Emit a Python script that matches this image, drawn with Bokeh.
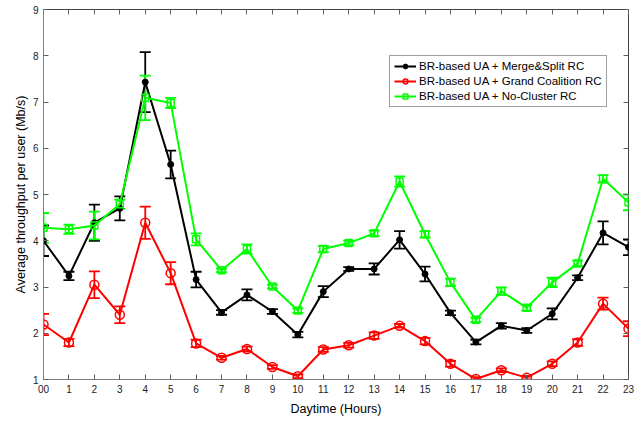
from bokeh.plotting import figure
from bokeh.models import (ColumnDataSource, Whisker, TeeHead, Range1d, LinearAxis,
                          FixedTicker, Legend, LegendItem)
from bokeh.embed import file_html
from bokeh.resources import INLINE

hours = list(range(24))
hour_labels = ["00"] + [str(h) for h in range(1, 24)]
y_ticks = [1, 2, 3, 4, 5, 6, 7, 8, 9]

series_names = ["BR-based UA + Merge&Split RC",
                "BR-based UA + Grand Coalition RC",
                "BR-based UA + No-Cluster RC"]

merge_split = [4.00, 3.24, 4.39, 4.70, 7.43, 5.65, 3.16, 2.45, 2.83, 2.47, 1.97, 2.90,
               3.39, 3.39, 4.02, 3.28, 2.44, 1.81, 2.16, 2.06, 2.42, 3.20, 4.17, 3.86]
merge_split_err = [0.33, 0.09, 0.39, 0.26, 0.65, 0.30, 0.17, 0.05, 0.12, 0.05, 0.06, 0.12,
                   0.04, 0.12, 0.19, 0.16, 0.05, 0.05, 0.06, 0.05, 0.12, 0.05, 0.25, 0.17]

grand_coal = [2.19, 1.80, 3.05, 2.40, 4.39, 3.30, 1.78, 1.47, 1.66, 1.27, 1.07, 1.65,
              1.74, 1.95, 2.16, 1.83, 1.34, 1.01, 1.20, 1.04, 1.34, 1.80, 2.64, 2.10]
grand_coal_err = [0.23, 0.08, 0.29, 0.18, 0.35, 0.24, 0.08, 0.04, 0.05, 0.04, 0.04, 0.05,
                  0.05, 0.07, 0.04, 0.07, 0.06, 0.04, 0.04, 0.04, 0.05, 0.07, 0.13, 0.16]

no_cluster = [4.28, 4.25, 4.33, 4.79, 7.09, 6.98, 4.03, 3.36, 3.82, 3.01, 2.49, 3.82,
              3.95, 4.16, 5.28, 4.14, 3.10, 2.29, 2.91, 2.55, 3.10, 3.51, 5.34, 4.83]
no_cluster_err = [0.32, 0.10, 0.30, 0.10, 0.48, 0.11, 0.13, 0.04, 0.10, 0.04, 0.05, 0.07,
                  0.05, 0.06, 0.11, 0.07, 0.08, 0.05, 0.08, 0.06, 0.10, 0.06, 0.08, 0.17]

FONT = "Liberation Sans"

p = figure(width=636, height=418, output_backend="svg", toolbar_location=None,
           x_range=Range1d(0, 23), y_range=Range1d(1, 9),
           min_border_left=43, min_border_right=8, min_border_top=9, min_border_bottom=38)
p.grid.visible = False
p.outline_line_color = "#404040"
p.outline_line_width = 1
p.background_fill_color = "white"
p.border_fill_color = "white"

# axes
p.xaxis.ticker = FixedTicker(ticks=hours)
p.xaxis.major_label_overrides = {h: l for h, l in zip(hours, hour_labels)}
p.yaxis.ticker = FixedTicker(ticks=y_ticks)
for ax in (p.xaxis[0], p.yaxis[0]):
    ax.major_tick_in = 5
    ax.major_tick_out = 0
    ax.minor_tick_line_color = None
    ax.axis_line_color = "#808080"
    ax.major_tick_line_color = "#606060"
    ax.major_label_text_font = FONT
    ax.major_label_text_font_size = "10px"
    ax.major_label_text_color = "#222222"
    ax.axis_label_text_font = FONT
    ax.axis_label_text_font_size = "12.5px"
    ax.axis_label_text_font_style = "normal"
    ax.axis_label_text_color = "black"
p.xaxis.axis_label = "Daytime (Hours)"
p.yaxis.axis_label = "Average throughput per user (Mb/s)"
p.xaxis.major_label_standoff = 5
p.xaxis.axis_label_standoff = 6
p.yaxis.major_label_standoff = 5
p.yaxis.axis_label_standoff = 2

top_ax = LinearAxis(ticker=FixedTicker(ticks=hours), major_tick_in=5, major_tick_out=0,
                    minor_tick_line_color=None, major_tick_line_color="#606060",
                    major_label_text_font_size="0px", major_label_text_color=None,
                    major_label_standoff=0, axis_line_color=None)
right_ax = LinearAxis(ticker=FixedTicker(ticks=y_ticks), major_tick_in=5, major_tick_out=0,
                      minor_tick_line_color=None, major_tick_line_color="#606060",
                      major_label_text_font_size="0px", major_label_text_color=None,
                      major_label_standoff=0, axis_line_color=None)
p.add_layout(top_ax, "above")
p.add_layout(right_ax, "right")

colors = ["#000000", "#ff0000", "#00ff00"]
values = [merge_split, grand_coal, no_cluster]
errors = [merge_split_err, grand_coal_err, no_cluster_err]

items = []
for name, col, vals, errs, kind in zip(series_names, colors, values, errors,
                                       ["dot", "circle", "square"]):
    src = ColumnDataSource(dict(x=hours, y=vals,
                                lo=[v - e for v, e in zip(vals, errs)],
                                hi=[v + e for v, e in zip(vals, errs)]))
    w = Whisker(source=src, base="x", upper="hi", lower="lo", line_color=col, line_width=1.8,
                upper_head=TeeHead(size=11, line_color=col, line_width=1.8),
                lower_head=TeeHead(size=11, line_color=col, line_width=1.8))
    p.add_layout(w)
    ln = p.line("x", "y", source=src, line_color=col, line_width=2)
    if kind == "dot":
        mk = p.scatter("x", "y", source=src, marker="circle", size=6,
                       fill_color=col, line_color=col)
    elif kind == "circle":
        mk = p.scatter("x", "y", source=src, marker="circle", size=9,
                       fill_color=None, line_color=col, line_width=1.5)
    else:
        mk = p.scatter("x", "y", source=src, marker="square", size=7,
                       fill_color=None, line_color=col, line_width=1.5)
    items.append(LegendItem(label=name, renderers=[ln, mk]))

legend = Legend(items=items, location=(346, 272), orientation="vertical",
                label_text_font=FONT, label_text_font_size="11.5px",
                label_text_color="black", glyph_width=22, glyph_height=12,
                label_height=12, label_standoff=3, spacing=3, padding=4, margin=0,
                border_line_color="#404040", border_line_width=1,
                background_fill_color="white", background_fill_alpha=1)
p.add_layout(legend, "center")

open("out.html", "w").write(file_html(p, INLINE))
